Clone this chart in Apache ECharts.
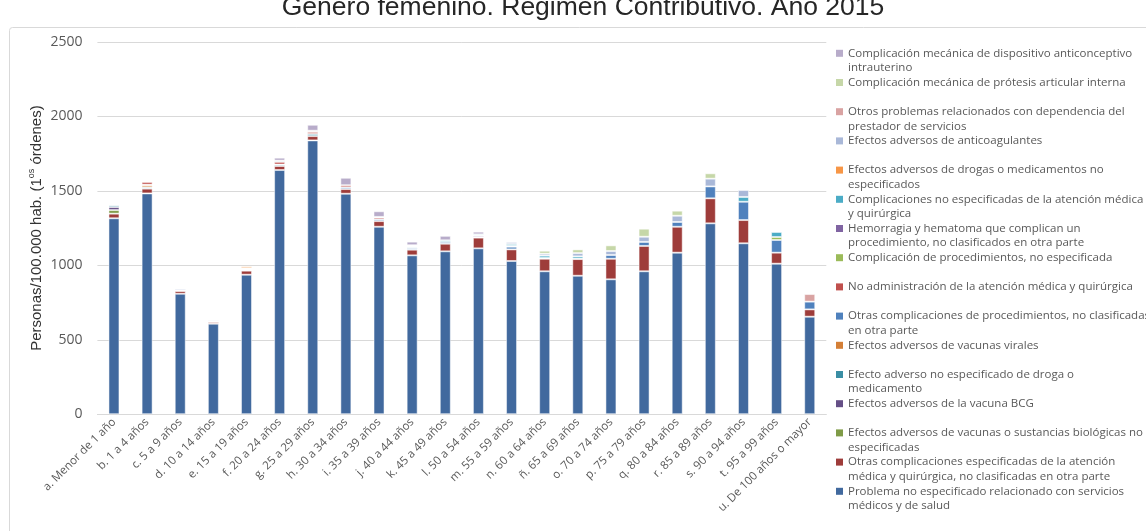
<!DOCTYPE html>
<html>
<head>
<meta charset="utf-8">
<script src="https://cdn.jsdelivr.net/npm/echarts@6/dist/echarts.min.js"></script>
<style>
  html, body { margin: 0; padding: 0; background: #fff; }
  #chart { width: 1146px; height: 531px; }
</style>
</head>
<body>
<div id="chart"></div>
<script>
// Age groups (x axis)
const categories = [
  'a. Menor de 1 año', 'b. 1 a 4 años', 'c. 5 a 9 años', 'd. 10 a 14 años',
  'e. 15 a 19 años', 'f. 20 a 24 años', 'g. 25 a 29 años', 'h. 30 a 34 años',
  'i. 35 a 39 años', 'j. 40 a 44 años', 'k. 45 a 49 años', 'l. 50 a 54 años',
  'm. 55 a 59 años', 'n. 60 a 64 años', 'ñ. 65 a 69 años', 'o. 70 a 74 años',
  'p. 75 a 79 años', 'q. 80 a 84 años', 'r. 85 a 89 años', 's. 90 a 94 años',
  't. 95 a 99 años', 'u. De 100 años o mayor'
];

// Y axis ticks
const yTicks = [0, 500, 1000, 1500, 2000, 2500];

// Cause names, stacked bottom to top; '\n' marks the legend line breaks
const causeLabels = [
  'Problema no especificado relacionado con servicios\nmédicos y de salud',
  'Otras complicaciones especificadas de la atención\nmédica y quirúrgica, no clasificadas en otra parte',
  'Efectos adversos de vacunas o sustancias biológicas no\nespecificadas',
  'Efectos adversos de la vacuna BCG',
  'Efecto adverso no especificado de droga o\nmedicamento',
  'Efectos adversos de vacunas virales',
  'Otras complicaciones de procedimientos, no clasificadas\nen otra parte',
  'No administración de la atención médica y quirúrgica',
  'Complicación de procedimientos, no especificada',
  'Hemorragia y hematoma que complican un\nprocedimiento, no clasificados en otra parte',
  'Complicaciones no especificadas de la atención médica\ny quirúrgica',
  'Efectos adversos de drogas o medicamentos no\nespecificados',
  'Efectos adversos de anticoagulantes',
  'Otros problemas relacionados con dependencia del\nprestador de servicios',
  'Complicación mecánica de prótesis articular interna',
  'Complicación mecánica de dispositivo anticonceptivo\nintrauterino'
];

const causeColors = [
  '#41699E', '#9E3C3A', '#7F9B47', '#654F86', '#3A8EA4', '#D47F36',
  '#4F81BD', '#C0504D', '#9BBB59', '#8064A2', '#4BACC6', '#F79646',
  '#A9B8D8', '#D9A3A2', '#C6D7A8', '#B8ACCA'
];

// Personas por 100.000 hab., one array per cause (same order as categories)
const problemaNoEspecificado = [1316,1483,809,608,937,1640,1839,1481,1259,1067,1094,1114,1029,960,930,906,960,1085,1282,1148,1011,655];
const otrasEspecificadas     = [31,32,18,11,27,27,29,31,38,38,51,72,78,84,112,138,170,174,168,156,74,49];
const vacunasSustancias      = [24,0,0,0,0,0,0,0,0,0,0,0,0,0,0,0,0,0,0,0,0,0];
const vacunaBCG              = [20,0,0,0,0,0,0,0,0,0,0,0,0,0,0,0,0,0,0,0,0,0];
const drogaNoEspecificada    = [12,9,0,0,6,10,14,0,0,0,0,5,0,0,0,0,0,0,0,0,0,0];
const vacunasVirales         = [0,14,0,0,0,0,0,0,0,0,0,0,0,0,0,0,0,0,0,0,0,0];
const otrasProcedimientos    = [0,4,6,6,0,0,0,12,12,10,12,0,18,5,3,25,27,32,80,123,85,52];
const noAdministracion       = [0,18,0,0,6,18,14,14,12,0,0,0,6,0,0,0,0,0,0,0,0,0];
const procNoEspecificada     = [0,0,0,0,0,0,0,0,0,0,0,0,0,0,0,0,0,0,0,0,20,0];
const hemorragiaHematoma     = [0,0,0,0,0,0,0,0,0,0,0,9,0,0,0,0,0,0,0,0,0,0];
const atencionNoEspecificada = [5,0,0,0,5,8,0,0,4,8,11,8,12,16,15,0,0,0,0,32,34,0];
const drogasNoEspecificados  = [0,0,0,0,12,0,0,0,0,0,0,0,0,0,0,0,0,0,0,0,0,0];
const anticoagulantes        = [0,0,10,8,0,0,0,0,0,6,0,0,13,13,22,27,35,42,52,47,0,0];
const dependenciaPrestador   = [0,0,0,6,0,0,8,0,0,6,0,0,0,0,0,0,0,0,0,0,0,51];
const protesisArticular      = [0,0,0,0,0,0,0,0,0,0,0,0,0,20,25,38,54,34,36,0,0,0];
const dispositivoIntrauterino= [0,0,0,0,0,20,40,50,38,24,30,18,0,0,0,0,0,0,0,0,0,0];

const causeValues = [
  problemaNoEspecificado, otrasEspecificadas, vacunasSustancias, vacunaBCG,
  drogaNoEspecificada, vacunasVirales, otrasProcedimientos, noAdministracion,
  procNoEspecificada, hemorragiaHematoma, atencionNoEspecificada, drogasNoEspecificados,
  anticoagulantes, dependenciaPrestador, protesisArticular, dispositivoIntrauterino
];

const causeNames = causeLabels.map(s => s.replace('\n', ' '));
const labelByName = {};
causeNames.forEach((n, i) => {
  const l = causeLabels[i];
  labelByName[n] = l.indexOf('\n') >= 0 ? l : l + '\n\u00a0';
});

const series = causeNames.map((name, i) => ({
  name: name,
  type: 'bar',
  stack: 'total',
  barWidth: 11,
  color: causeColors[i],
  itemStyle: { borderColor: 'rgba(255,255,255,0.5)', borderWidth: 1 },
  emphasis: { disabled: true },
  data: causeValues[i].map(v => (v > 0 ? v : '-'))
}));

// Legend swatch sits on the first line of a two-line slot
const LINE = 14.6;
const swatch = 'path://M0,0M7,' + (2 * LINE) + 'M0,' + (LINE / 2 - 3.5) + 'L7,' + (LINE / 2 - 3.5) +
               'L7,' + (LINE / 2 + 3.5) + 'L0,' + (LINE / 2 + 3.5) + 'Z';

const chart = echarts.init(document.getElementById('chart'), null, { renderer: 'canvas' });
chart.setOption({
  animation: false,
  backgroundColor: '#fff',
  title: {
    text: 'Género femenino. Régimen Contributivo. Año 2015',
    left: 578,
    top: -11,
    textAlign: 'center',
    textStyle: { fontFamily: 'Liberation Sans', fontSize: 26.5, fontWeight: 'normal', color: '#262626' }
  },
  graphic: [{
    type: 'rect',
    silent: true,
    z: -1,
    shape: { x: 9.5, y: 27.5, width: 1200, height: 600, r: 3 },
    style: { fill: null, stroke: '#d9d9d9', lineWidth: 1 }
  }],
  grid: { left: 97.4, right: 319.7, top: 42, bottom: 116.8, containLabel: false },
  legend: {
    orient: 'vertical',
    left: 836,
    top: 46,
    padding: 0,
    itemGap: 0,
    itemWidth: 7,
    itemHeight: 2 * LINE,
    icon: swatch,
    selectedMode: false,
    data: causeNames.slice().reverse(),
    itemStyle: { borderWidth: 0 },
    formatter: name => labelByName[name],
    textStyle: { fontFamily: 'Open Sans', fontSize: 11.5, lineHeight: LINE, color: '#595959' }
  },
  xAxis: {
    type: 'category',
    data: categories,
    axisLine: { lineStyle: { color: '#d9d9d9', width: 1 } },
    axisTick: { show: false },
    axisLabel: {
      interval: 0,
      rotate: 45,
      margin: 6,
      fontFamily: 'Open Sans',
      fontSize: 11.5,
      color: '#595959'
    }
  },
  yAxis: {
    type: 'value',
    min: yTicks[0],
    max: yTicks[yTicks.length - 1],
    interval: yTicks[1] - yTicks[0],
    name: 'Personas/100.000 hab. (1{sup|os} órdenes)',
    nameLocation: 'middle',
    nameGap: 39,
    nameMoveOverlap: false,
    nameTextStyle: {
      fontFamily: 'Liberation Sans',
      fontSize: 15,
      color: '#333',
      backgroundColor: '#fff',
      padding: [4, 0, 13, 0],
      rich: {
        sup: { fontFamily: 'Liberation Sans', fontSize: 9, color: '#333', verticalAlign: 'top', lineHeight: 18 }
      }
    },
    axisLine: { show: false },
    axisTick: { show: false },
    splitLine: { lineStyle: { color: '#d9d9d9', width: 1 } },
    axisLabel: {
      margin: 15,
      fontFamily: 'Open Sans',
      fontSize: 14,
      color: '#595959',
      formatter: v => String(v)
    }
  },
  series: series
});
</script>
</body>
</html>
